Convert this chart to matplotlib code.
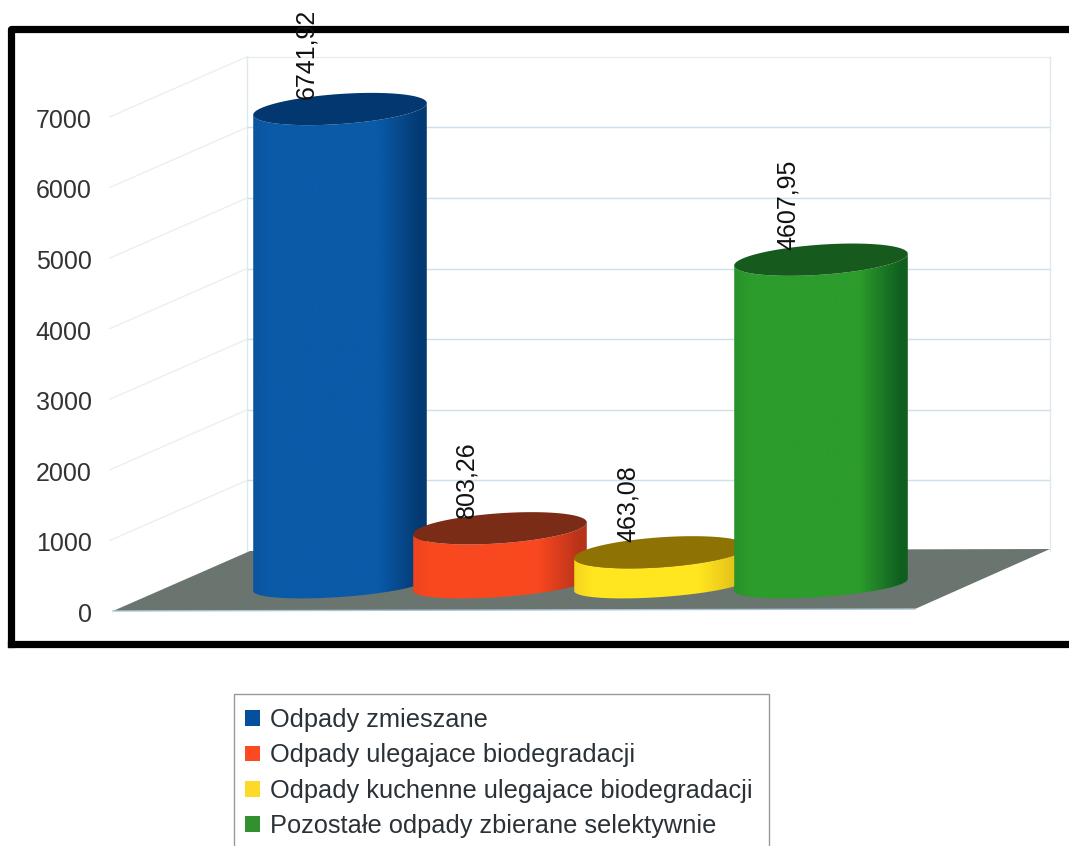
import numpy as np
import matplotlib
matplotlib.use('Agg')
import matplotlib.pyplot as plt
from matplotlib.colors import LinearSegmentedColormap
from matplotlib.patches import Patch, PathPatch, Polygon, Rectangle
from matplotlib.path import Path
from matplotlib.transforms import ScaledTranslation

# dane
categories = ['Odpady zmieszane', 'Odpady ulegajace biodegradacji',
              'Odpady kuchenne ulegajace biodegradacji',
              'Pozostałe odpady zbierane selektywnie']
values = [6741.92, 803.26, 463.08, 4607.95]
y_ticks = [0, 1000, 2000, 3000, 4000, 5000, 6000, 7000]

# kolory: bok (lewa, srodek, prawa) i gorna pokrywa
side_colors = [['#0a55a0', '#0a5aa8', '#033a72'],
               ['#ee4420', '#f9481f', '#b8331a'],
               ['#f5d41e', '#ffe61f', '#e0bc18'],
               ['#28922a', '#2c9c2c', '#0f5f1f']]
top_colors = ['#03376f', '#7a2c16', '#8f7204', '#175a1d']
legend_colors = ['#04509c', '#fb4a22', '#fdd928', '#33902e']

# pozycje w pikselach obrazka
centers = [340, 500, 661, 821]
half_w = 87
half_h = 15
half_h_low = 12
tilt = np.deg2rad(-4)
base_px = 585
scale = 0.0706   # pikseli na jednostke
zero_px = 611
depth_y = 60


def val(px):
    return (zero_px - np.asarray(px, dtype=float)) / scale


def ellipse(cx, cy, t, hh):
    # punkty pochylonej elipsy, y w pikselach
    x = half_w * np.cos(t)
    y = hh * np.sin(t)
    return (cx + x * np.cos(tilt) - y * np.sin(tilt),
            cy + x * np.sin(tilt) + y * np.cos(tilt))


plt.rcParams['font.family'] = ['Liberation Sans', 'DejaVu Sans']
fig = plt.figure(figsize=(10.69, 8.46), dpi=100)
ax = fig.add_axes([0, 0, 1, 1])
ax.set_xlim(0, 1069)
ax.set_ylim(val(846), val(0))
for s in ax.spines.values():
    s.set_visible(False)
ax.set_xticks([])
ax.set_yticks(y_ticks)
ax.tick_params(axis='y', length=0, direction='in', pad=-66, labelsize=18, labelcolor='#333333')
# etykiety osi nieco nizej
for lab in ax.get_yticklabels():
    lab.set_transform(lab.get_transform() + ScaledTranslation(0, -1.5 / 100, fig.dpi_scale_trans))

# sciany i siatka
grid_c = '#cfe0ea'
for v in y_ticks[1:]:
    ax.plot([247, 1050], [v + depth_y / scale] * 2, color='#e6eef2' if v == 7000 else grid_c, lw=1, zorder=1)
    ax.plot([110, 247], [v, v + depth_y / scale], color='#e8f0f3', lw=1, zorder=1)
top_back = 7000 + depth_y / scale
ax.plot([247, 247], [depth_y / scale, top_back], color='#dfe8ee', lw=1, zorder=1)
ax.plot([1050, 1050], [depth_y / scale, top_back], color='#dfe8ee', lw=1, zorder=1)

# podloga
floor = [(113, 0), (915, val(609)), (1050, val(549)), (250, val(551))]
ax.add_patch(Polygon(floor, closed=True, fc='#6b7570', ec='none', zorder=2))
ax.plot([113, 915], [0, val(609)], color='#a9c4d6', lw=1, zorder=2)

# walce
for i, (c, v) in enumerate(zip(centers, values)):
    top = val(base_px) + v
    top_px = zero_px - top * scale
    z = 3 + i
    # bok walca
    t_low = np.linspace(np.pi, 0, 60)
    bx, by = ellipse(c, base_px, t_low, half_h_low)
    tx, ty = ellipse(c, top_px, t_low[::-1], half_h)
    pts = np.column_stack([np.r_[bx, tx], val(np.r_[by, ty])])
    body = PathPatch(Path(np.vstack([pts, pts[0]]), closed=True), fc='none', ec='none', zorder=z)
    ax.add_patch(body)
    cols = side_colors[i]
    cmap = LinearSegmentedColormap.from_list('b', [(0, cols[0]), (0.1, cols[1]), (0.72, cols[1]),
                                                   (0.96, cols[2]), (1, cols[2])])
    im = ax.imshow(np.linspace(0, 1, 256)[None, :], cmap=cmap, aspect='auto', zorder=z,
                   extent=[c - half_w, c + half_w, val(base_px + 20), val(top_px - 20)])
    im.set_clip_path(body)
    # pokrywa
    ex, ey = ellipse(c, top_px, np.linspace(0, 2 * np.pi, 120), half_h)
    ax.add_patch(Polygon(np.column_stack([ex, val(ey)]), closed=True, fc=top_colors[i], ec='none', zorder=z))

    label = f'{v:.2f}'.replace('.', ',')
    ax.text(c - 33.5, val(top_px - 10), label, rotation=90, ha='center', va='bottom',
            fontsize=18, color='#111111', zorder=20)

ax.set_xlim(0, 1069)
ax.set_ylim(val(846), val(0))

# ramka
ax.add_patch(Rectangle((10.5, val(643.5)), 1100, (643.5 - 28.5) / scale, fc='none', ec='black',
                       lw=5.2, zorder=10, joinstyle='round', capstyle='projecting'))

# legenda
ax.add_patch(Rectangle((234, val(870)), 535, (870 - 694) / scale, fc='white', ec='#999999', lw=1, zorder=11))
handles = [Patch(fc=c, ec='none', label=n) for c, n in zip(legend_colors, categories)]
leg = ax.legend(handles=handles, loc='upper left', bbox_to_anchor=(245 / 1069, 1 - 708 / 846),
                borderaxespad=0, fontsize=18.3, handlelength=0.58, handleheight=0.58, handletextpad=0.4,
                labelspacing=0.45, borderpad=0, frameon=False)
leg.set_zorder(12)
for t in leg.get_texts():
    t.set_color('#2a3238')

fig.savefig('out.png', dpi=100)
